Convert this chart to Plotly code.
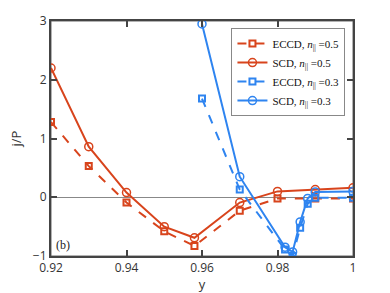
import plotly.graph_objects as go

RED = "#D8441C"
BLUE = "#2E84F0"

x_red = [0.92, 0.93, 0.94, 0.95, 0.958, 0.97, 0.98, 0.99, 1.0]
eccd_05 = [1.28, 0.53, -0.09, -0.58, -0.83, -0.23, -0.02, -0.02, -0.02]
scd_05 = [2.20, 0.86, 0.08, -0.50, -0.69, -0.09, 0.10, 0.13, 0.16]

x_blue = [0.96, 0.97, 0.982, 0.984, 0.986, 0.988, 0.99, 1.0]
eccd_03 = [1.68, 0.13, -0.89, -1.0, -0.52, -0.11, -0.01, -0.01]
scd_03 = [2.95, 0.35, -0.85, -0.93, -0.42, -0.02, 0.09, 0.10]

x_ticks = [0.92, 0.94, 0.96, 0.98, 1.0]
x_tick_labels = ["0.92", "0.94", "0.96", "0.98", "1"]
y_ticks = [-1, 0, 1, 2, 3]

x_range = [x_ticks[0], x_ticks[-1]]
y_range = [y_ticks[0], y_ticks[-1]]

fig = go.Figure()
# axes frame, built from the axis ranges
fig.add_trace(go.Scatter(x=[x_range[0], x_range[1], x_range[1], x_range[0], x_range[0]],
                         y=[y_range[0], y_range[0], y_range[1], y_range[1], y_range[0]],
                         mode="lines", line=dict(color="#666666", width=1),
                         showlegend=False, hoverinfo="skip", cliponaxis=False))
fig.add_trace(go.Scatter(x=x_red, y=eccd_05, mode="lines+markers",
                         name="ECCD, <i>n</i><sub>||</sub> =0.5",
                         line=dict(color=RED, width=2, dash="dash"),
                         marker=dict(symbol="square-open", size=6, color=RED, line=dict(width=2))))
fig.add_trace(go.Scatter(x=x_red, y=scd_05, mode="lines+markers",
                         name="SCD, <i>n</i><sub>||</sub> =0.5",
                         line=dict(color=RED, width=2),
                         marker=dict(symbol="circle-open", size=8, color=RED, line=dict(width=1.5))))
fig.add_trace(go.Scatter(x=x_blue, y=eccd_03, mode="lines+markers",
                         name="ECCD, <i>n</i><sub>||</sub> =0.3",
                         line=dict(color=BLUE, width=2, dash="dash"),
                         marker=dict(symbol="square-open", size=6, color=BLUE, line=dict(width=2))))
fig.add_trace(go.Scatter(x=x_blue, y=scd_03, mode="lines+markers",
                         name="SCD, <i>n</i><sub>||</sub> =0.3",
                         line=dict(color=BLUE, width=2),
                         marker=dict(symbol="circle-open", size=8, color=BLUE, line=dict(width=1.5))))

axis_common = dict(showgrid=False, showline=True, linecolor="#444444", linewidth=2,
                   mirror="ticks", ticks="inside", ticklen=6, tickwidth=1.5, tickcolor="#444444",
                   tickfont=dict(family="Open Sans, sans-serif", size=12, color="#333333"))

fig.update_xaxes(range=x_range, tickvals=x_ticks, ticktext=x_tick_labels,
                 title=dict(text="y", font=dict(family="Open Sans, sans-serif", size=13, color="#333333"), standoff=4),
                 zeroline=False, **axis_common)
fig.update_yaxes(range=y_range, tickvals=y_ticks,
                 title=dict(text="j/P", font=dict(family="Open Sans, sans-serif", size=13, color="#333333"), standoff=8),
                 zeroline=True, zerolinecolor="#888888", zerolinewidth=1.2, **axis_common)

fig.add_annotation(x=0.0, y=0.0, xref="paper", yref="paper", xanchor="left", yanchor="bottom",
                   text="(b)", showarrow=False, xshift=3, yshift=2,
                   font=dict(family="Liberation Serif, serif", size=12, color="#222222"))

fig.update_layout(
    template="simple_white",
    width=390, height=293,
    margin=dict(l=51, r=37, t=21, b=37, autoexpand=False),
    paper_bgcolor="white", plot_bgcolor="white",
    legend=dict(x=0.975, y=0.97, xanchor="right", yanchor="top",
                bgcolor="white", bordercolor="#888888", borderwidth=1,
                font=dict(family="Liberation Serif, serif", size=11, color="#111111"),
                tracegroupgap=0, itemwidth=30, itemsizing="trace"),
)

fig.write_html("out.html", config={"displayModeBar": False},
               post_script="document.body.style.margin='0';document.body.style.padding='0';")
